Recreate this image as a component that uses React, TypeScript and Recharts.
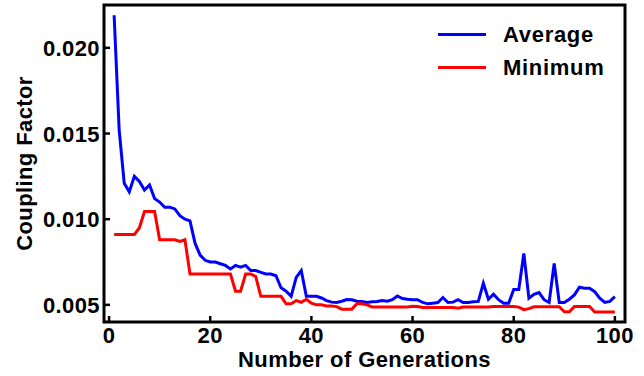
import { LineChart, Line, XAxis, YAxis, Legend, ReferenceArea } from 'recharts';

// generation 1..100, one value per generation
const average = [
  0.0219, 0.0152, 0.0121, 0.0116, 0.0125, 0.0122, 0.0117, 0.012, 0.0112, 0.011,
  0.0107, 0.0107, 0.0106, 0.0102, 0.01, 0.0099, 0.0086, 0.0079, 0.0076, 0.0075,
  0.0075, 0.0074, 0.0073, 0.0071, 0.0073, 0.0072, 0.0073, 0.007, 0.007, 0.0069,
  0.0068, 0.0068, 0.0067, 0.006, 0.0058, 0.0055, 0.0066, 0.007, 0.0055, 0.0055,
  0.0055, 0.0054, 0.00525, 0.00516, 0.00514, 0.00521, 0.00531, 0.0053, 0.00521, 0.0052,
  0.00514, 0.00518, 0.0052, 0.00525, 0.00521, 0.0053, 0.00552, 0.00537, 0.00533, 0.0053,
  0.0053, 0.00514, 0.00506, 0.0051, 0.00514, 0.00543, 0.00514, 0.00516, 0.0053, 0.00514,
  0.00514, 0.00518, 0.0052, 0.00626, 0.00533, 0.00562, 0.0053, 0.0051, 0.0051, 0.0059,
  0.0059, 0.008, 0.00539, 0.00562, 0.00572, 0.0053, 0.00514, 0.00742, 0.00514, 0.00514,
  0.00533, 0.00558, 0.00603, 0.00597, 0.00597, 0.00577, 0.00539, 0.00514, 0.0052, 0.00548,
];

const minimum = [
  0.0091, 0.0091, 0.0091, 0.0091, 0.0091, 0.0095, 0.01045, 0.01045, 0.01045, 0.0088,
  0.0088, 0.0088, 0.0088, 0.0087, 0.0088, 0.0068, 0.0068, 0.0068, 0.0068, 0.0068,
  0.0068, 0.0068, 0.0068, 0.0068, 0.0058, 0.0058, 0.0068, 0.0068, 0.00665, 0.0055,
  0.0055, 0.0055, 0.0055, 0.0055, 0.00506, 0.00506, 0.00525, 0.00515, 0.00533, 0.0051,
  0.005, 0.005, 0.00494, 0.00494, 0.0049, 0.00475, 0.00475, 0.00475, 0.00506, 0.00506,
  0.005, 0.00488, 0.00488, 0.00488, 0.00488, 0.00488, 0.00488, 0.00488, 0.00488, 0.00492,
  0.0049, 0.00485, 0.00485, 0.00485, 0.00485, 0.00485, 0.00485, 0.00485, 0.0048, 0.00487,
  0.00487, 0.00487, 0.00487, 0.00487, 0.00487, 0.0049, 0.0049, 0.0049, 0.0049, 0.0049,
  0.00487, 0.00472, 0.00478, 0.00489, 0.00489, 0.00489, 0.00489, 0.00489, 0.00489, 0.0046,
  0.0046, 0.0049, 0.0049, 0.0049, 0.0049, 0.00458, 0.00458, 0.00458, 0.00458, 0.00458,
];

const xTicks = [0, 20, 40, 60, 80, 100];
const yTicks = [0.005, 0.01, 0.015, 0.02];

const data = average.map((avg, i) => ({ gen: i + 1, avg, min: minimum[i] }));

const FONT = '"Liberation Sans", Arial, sans-serif';
const SPACING = 0.4;
const X_DOMAIN: [number, number] = [-1, 102];
const Y_DOMAIN: [number, number] = [0.004, 0.0225];

// ticks point inwards, so draw them ourselves
function XTick({ x, y, payload }: any) {
  return (
    <g>
      <line x1={x} x2={x} y1={y} y2={y - 6} stroke="#000" strokeWidth={2.5} />
      <text x={x} y={y + 21} textAnchor="middle" fontFamily={FONT} fontWeight="bold" fontSize={22}
        letterSpacing={SPACING} fill="#000">
        {payload.value}
      </text>
    </g>
  );
}

function YTick({ x, y, payload }: any) {
  return (
    <g>
      <line x1={x} x2={x + 6} y1={y} y2={y} stroke="#000" strokeWidth={2.5} />
      <text x={x - 4} y={y + 8} textAnchor="end" fontFamily={FONT} fontWeight="bold" fontSize={22}
        letterSpacing={SPACING} fill="#000">
        {payload.value.toFixed(3)}
      </text>
    </g>
  );
}

function YTitle({ viewBox }: any) {
  const cx = viewBox.x + 24;
  const cy = viewBox.y + viewBox.height / 2;
  return (
    <text x={cx} y={cy} transform={`rotate(-90 ${cx} ${cy})`} textAnchor="middle" dominantBaseline="central"
      fontFamily={FONT} fontWeight="bold" fontSize={22} letterSpacing={SPACING} fill="#000">
      Coupling Factor
    </text>
  );
}

function XTitle({ viewBox }: any) {
  return (
    <text x={viewBox.x + viewBox.width / 2} y={viewBox.y + 45} textAnchor="middle"
      fontFamily={FONT} fontWeight="bold" fontSize={22} letterSpacing={SPACING} fill="#000">
      Number of Generations
    </text>
  );
}

function LegendBox({ payload }: any) {
  return (
    <div style={{ fontFamily: FONT, fontWeight: 'bold', fontSize: 22, letterSpacing: SPACING + 0.3, color: '#000' }}>
      {(payload || []).map((entry: any) => (
        <div key={entry.value} style={{ display: 'flex', alignItems: 'center', height: 33 }}>
          <span style={{ display: 'inline-block', width: 48, height: 3, background: entry.color, marginRight: 17 }} />
          <span>{entry.value}</span>
        </div>
      ))}
    </div>
  );
}

export default function App() {
  return (
    <div style={{ position: 'absolute', left: 0, top: 0, background: '#fff' }}>
      <LineChart width={644} height={376} data={data} margin={{ top: 5, right: 19, left: 0, bottom: 0 }}>
        <XAxis dataKey="gen" type="number" domain={X_DOMAIN} ticks={xTicks} allowDataOverflow
          height={54} tickSize={0} tickMargin={0} tickLine={false} tick={<XTick />}
          axisLine={false} label={<XTitle />} />
        <YAxis type="number" domain={Y_DOMAIN} ticks={yTicks} allowDataOverflow width={104}
          tickSize={0} tickMargin={0} tickLine={false} tick={<YTick />}
          axisLine={false} label={<YTitle />} />
        {/* plot frame */}
        <ReferenceArea x1={X_DOMAIN[0]} x2={X_DOMAIN[1]} y1={Y_DOMAIN[0]} y2={Y_DOMAIN[1]}
          fill="none" fillOpacity={0} stroke="#000" strokeWidth={3} strokeOpacity={1} ifOverflow="visible" />
        <Legend layout="vertical" align="center" verticalAlign="middle" content={<LegendBox />}
          wrapperStyle={{ top: 18, left: 438, width: 200 }} />
        <Line name="Average" dataKey="avg" stroke="#0000ff" strokeWidth={3} dot={false} type="linear" isAnimationActive={false} />
        <Line name="Minimum" dataKey="min" stroke="#ff0000" strokeWidth={3} dot={false} type="linear" isAnimationActive={false} />
      </LineChart>
    </div>
  );
}
